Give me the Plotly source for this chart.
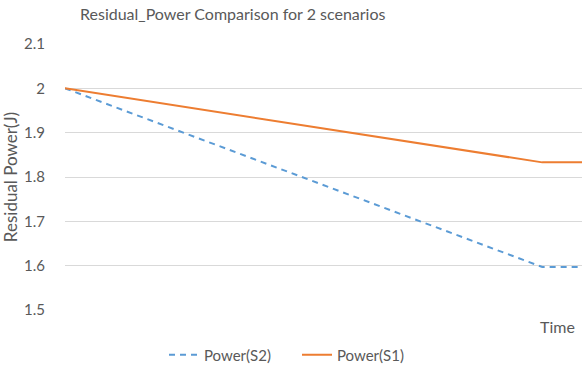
import plotly.graph_objects as go

title_text = "Residual_Power Comparison for 2 scenarios"
time_idx = [0, 12, 13]
power_s2 = [2.0, 1.597, 1.597]
power_s1 = [2.0, 1.833, 1.833]
y_ticks = [1.5, 1.6, 1.7, 1.8, 1.9, 2.0, 2.1]
y_labels = ["1.5", "1.6", "1.7", "1.8", "1.9", "2", "2.1"]

gray = "#595959"
font_family = "Lato, Open Sans, sans-serif"

fig = go.Figure()
fig.add_trace(go.Scatter(x=time_idx, y=power_s2, mode="lines", name="Power(S2)",
                         line=dict(color="#5b9bd5", width=2, dash="6px,5px")))
fig.add_trace(go.Scatter(x=time_idx, y=power_s1, mode="lines", name="Power(S1)",
                         line=dict(color="#ed7d31", width=2)))

fig.update_layout(
    width=588, height=371,
    margin=dict(l=65, r=6, t=44, b=61, autoexpand=False),
    paper_bgcolor="white", plot_bgcolor="white",
    font=dict(family=font_family, color=gray, size=14),
    title=dict(text=title_text, x=80/588, xanchor="left", y=1-14/371, yanchor="middle",
               font=dict(size=16, color=gray)),
    showlegend=True,
    legend=dict(orientation="h", x=(297-65)/517, xanchor="center",
                y=-45/266, yanchor="middle",
                font=dict(size=15, color=gray), itemwidth=30,
                entrywidth=88),
    xaxis=dict(range=[0, 13], showticklabels=False, showgrid=False, zeroline=False,
               showline=False, ticks=""),
    yaxis=dict(range=[1.5, 2.1], tickvals=y_ticks, ticktext=y_labels, showgrid=True,
               gridcolor="#d9d9d9", gridwidth=1, zeroline=False, showline=False,
               ticks="", ticklabelstandoff=19, tickfont=dict(size=15, color=gray),
               title=dict(text="Residual Power(J)", standoff=2, font=dict(size=17, color=gray))),
    annotations=[dict(text="Time", xref="paper", yref="paper", x=1, xanchor="right",
                      y=-16/266, yanchor="middle", showarrow=False,
                      font=dict(size=16, color=gray), xshift=-5)],
)

fig.write_html("out.html")
